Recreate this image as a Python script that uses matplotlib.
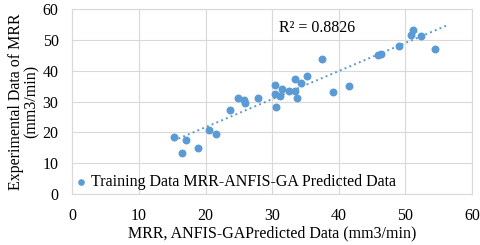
import numpy as np
import matplotlib
matplotlib.use("Agg")
import matplotlib.pyplot as plt

plt.rcParams['font.family'] = ['Liberation Serif', 'DejaVu Serif']

# predicted (x) vs experimental (y) MRR
mrr_pred = [15.2, 17.0, 16.4, 18.9, 20.5, 21.5, 23.7, 24.8, 25.7, 25.9, 27.8,
            30.4, 30.5, 30.6, 31.2, 31.5, 32.6, 33.4, 33.5, 33.8, 34.3, 35.2,
            37.5, 39.2, 41.5, 45.9, 46.4, 49.0, 50.8, 51.2, 52.3, 54.4]
mrr_exp = [18.6, 17.5, 13.4, 14.8, 20.7, 19.4, 27.2, 31.0, 30.4, 29.4, 31.3,
           35.5, 32.4, 28.2, 31.8, 34.2, 33.3, 33.3, 37.4, 31.3, 36.1, 38.2,
           43.7, 33.2, 35.0, 45.0, 45.5, 47.9, 51.7, 53.1, 51.2, 47.0]
r2_label = "R² = 0.8826"
x_ticks = [0, 10, 20, 30, 40, 50, 60]
y_ticks = [0, 10, 20, 30, 40, 50, 60]

blue = '#5B9BD5'
fs = 11.5

fig = plt.figure(figsize=(4.8, 2.45), dpi=100)
ax = fig.add_axes([0.151, 0.208, 0.832, 0.755])

ax.scatter(mrr_pred, mrr_exp, s=22, color=blue, zorder=3,
           label='Training Data MRR-ANFIS-GA Predicted Data')

# linear trendline
k, b = np.polyfit(mrr_pred, mrr_exp, 1)
xt = np.array([min(mrr_pred), max(mrr_pred) + 2])
ax.plot(xt, k * xt + b, linestyle=':', color=blue, linewidth=1.4, zorder=2)

ax.text(31, 53.7, r2_label, fontsize=fs, va='center')

ax.set_xlim(0, 60)
ax.set_ylim(0, 60)
ax.set_xticks(x_ticks)
ax.set_yticks(y_ticks)
ax.tick_params(axis='x', length=0, labelsize=fs, pad=10)
ax.tick_params(axis='y', length=0, labelsize=fs, pad=10)
ax.grid(True, color='#d9d9d9', linewidth=0.8)
ax.set_axisbelow(True)
for s in ax.spines.values():
    s.set_color('#d9d9d9')
    s.set_linewidth(0.8)

ax.set_xlabel('MRR, ANFIS-GAPredicted Data (mm3/min)', fontsize=fs, labelpad=1)
ax.set_ylabel('Experimental Data of MRR\n(mm3/min)', fontsize=fs, labelpad=2,
              linespacing=0.95)

ax.legend(loc='lower left', frameon=False, fontsize=fs, handletextpad=0.3,
          handlelength=0.6, borderaxespad=0.0, borderpad=0.25, markerscale=0.8)

fig.savefig('out.png', dpi=100)
